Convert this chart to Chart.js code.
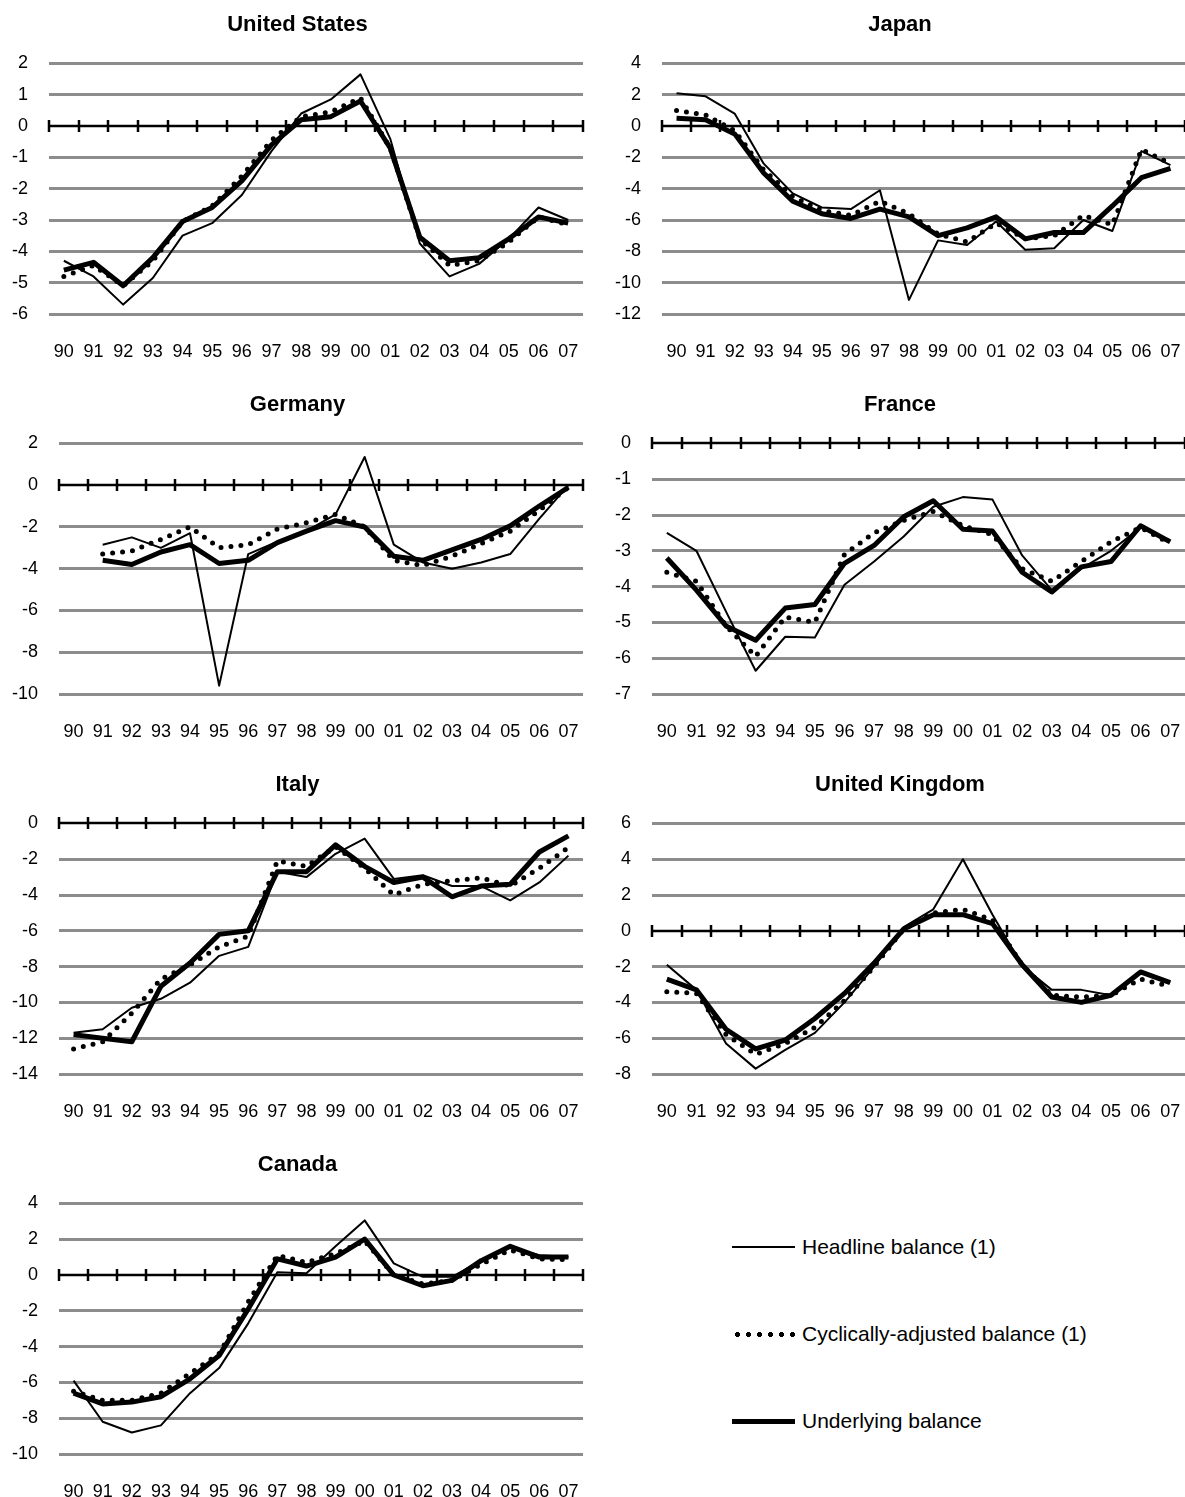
<!DOCTYPE html>
<html lang="en">
<head>
    <meta charset="UTF-8">
    <title>Fiscal balances, G7</title>
    <script src="https://cdn.jsdelivr.net/npm/chart.js"></script>
    <style>
        body {
            margin: 0;
            padding: 0;
            background: #fff;
            font-family: "Liberation Sans", Arial, sans-serif;
        }
        .page {
            position: relative;
            width: 1185px;
            height: 1497px;
        }
        .page canvas {
            position: absolute;
        }
        .legend-row {
            position: absolute;
            left: 732px;
            height: 30px;
            display: flex;
            align-items: center;
            font-size: 21px;
            color: #000;
        }
        .legend-row .sample {
            width: 63px;
            margin-right: 7px;
        }
        .sample.thin { border-top: 2px solid #000; }
        .sample.thick { border-top: 5px solid #000; }
        .sample.dots {
            height: 5px;
            background-image: radial-gradient(circle, #000 2.4px, transparent 2.8px);
            background-size: 11px 5px;
            background-repeat: repeat-x;
        }
    </style>
</head>
<body>

<div class="page" id="page">
    <div class="legend-row" style="top:1232px"><span class="sample thin"></span>Headline balance (1)</div>
    <div class="legend-row" style="top:1319px"><span class="sample dots"></span>Cyclically-adjusted balance (1)</div>
    <div class="legend-row" style="top:1406px"><span class="sample thick"></span>Underlying balance</div>
</div>

<script>
    // years on the category axis
    const years = ['90', '91', '92', '93', '94', '95', '96', '97', '98', '99', '00', '01', '02', '03', '04', '05', '06', '07'];

    // United States
    const usHeadline   = [-4.3, -4.8, -5.7, -4.85, -3.5, -3.1, -2.2, -0.8, 0.4, 0.85, 1.65, -0.4, -3.75, -4.8, -4.4, -3.6, -2.6, -3.0];
    const usCyclical   = [-4.8, -4.45, -5.1, -4.3, -3.05, -2.55, -1.6, -0.45, 0.3, 0.45, 0.9, -0.7, -3.6, -4.45, -4.3, -3.7, -2.9, -3.15];
    const usUnderlying = [-4.6, -4.35, -5.1, -4.2, -3.05, -2.6, -1.75, -0.6, 0.2, 0.3, 0.8, -0.7, -3.55, -4.3, -4.2, -3.6, -2.9, -3.1];
    const usTicks = [2, 1, 0, -1, -2, -3, -4, -5, -6];

    // Japan
    const jpHeadline   = [2.1, 1.9, 0.8, -2.4, -4.3, -5.2, -5.3, -4.1, -11.1, -7.3, -7.6, -6.1, -7.9, -7.8, -6.0, -6.7, -1.6, -2.5];
    const jpCyclical   = [1.0, 0.7, -0.3, -2.8, -4.5, -5.4, -5.7, -4.8, -5.6, -6.9, -7.4, -6.2, -7.2, -7.0, -5.7, -6.3, -1.5, -2.4];
    const jpUnderlying = [0.5, 0.4, -0.5, -3.0, -4.8, -5.6, -5.9, -5.3, -5.8, -7.0, -6.5, -5.8, -7.2, -6.8, -6.8, -5.1, -3.3, -2.7];
    const jpTicks = [4, 2, 0, -2, -4, -6, -8, -10, -12];

    // Germany (no 1990 value)
    const deHeadline   = [null, -2.85, -2.5, -3.0, -2.3, -9.6, -3.3, -2.7, -2.2, -1.4, 1.35, -2.85, -3.7, -4.0, -3.7, -3.3, -1.6, 0.0];
    const deCyclical   = [null, -3.3, -3.15, -2.6, -2.0, -3.0, -2.85, -2.1, -1.8, -1.4, -2.0, -3.6, -3.85, -3.4, -2.8, -2.2, -1.2, -0.1];
    const deUnderlying = [null, -3.6, -3.8, -3.2, -2.85, -3.75, -3.6, -2.75, -2.2, -1.7, -2.0, -3.4, -3.6, -3.1, -2.6, -1.95, -1.0, -0.1];
    const deTicks = [2, 0, -2, -4, -6, -8, -10];

    // France
    const frHeadline   = [-2.5, -3.0, -4.7, -6.35, -5.4, -5.42, -3.95, -3.3, -2.6, -1.77, -1.5, -1.57, -3.13, -4.1, -3.5, -3.0, -2.35, -2.7];
    const frCyclical   = [-3.6, -3.85, -5.1, -5.95, -4.85, -5.0, -3.1, -2.5, -2.15, -1.9, -2.3, -2.55, -3.5, -3.85, -3.3, -2.75, -2.35, -2.8];
    const frUnderlying = [-3.2, -4.1, -5.1, -5.5, -4.6, -4.5, -3.35, -2.85, -2.05, -1.6, -2.4, -2.45, -3.6, -4.15, -3.45, -3.3, -2.3, -2.75];
    const frTicks = [0, -1, -2, -3, -4, -5, -6, -7];

    // Italy
    const itHeadline   = [-11.7, -11.5, -10.3, -9.8, -8.9, -7.4, -6.9, -2.7, -3.0, -1.7, -0.85, -3.1, -2.9, -3.5, -3.5, -4.3, -3.3, -1.8];
    const itCyclical   = [-12.6, -12.2, -10.6, -8.7, -7.9, -6.9, -6.3, -2.1, -2.4, -1.3, -2.5, -4.0, -3.4, -3.2, -3.05, -3.5, -2.5, -1.35];
    const itUnderlying = [-11.8, -12.0, -12.2, -9.1, -7.8, -6.2, -6.0, -2.7, -2.7, -1.2, -2.4, -3.3, -3.0, -4.1, -3.5, -3.4, -1.6, -0.7];
    const itTicks = [0, -2, -4, -6, -8, -10, -12, -14];

    // United Kingdom
    const ukHeadline   = [-1.9, -3.3, -6.3, -7.7, -6.65, -5.7, -4.0, -2.0, 0.2, 1.2, 4.0, 0.9, -1.95, -3.3, -3.3, -3.6, -2.3, -2.9];
    const ukCyclical   = [-3.4, -3.5, -5.8, -6.9, -6.3, -5.4, -3.9, -2.0, 0.1, 1.0, 1.2, 0.6, -1.9, -3.6, -3.7, -3.6, -2.7, -3.1];
    const ukUnderlying = [-2.7, -3.3, -5.5, -6.6, -6.1, -4.9, -3.5, -1.8, 0.1, 0.9, 0.9, 0.4, -1.9, -3.7, -4.0, -3.6, -2.3, -2.9];
    const ukTicks = [6, 4, 2, 0, -2, -4, -6, -8];

    // Canada
    const caHeadline   = [-5.9, -8.2, -8.8, -8.4, -6.6, -5.2, -2.7, 0.15, 0.1, 1.6, 3.05, 0.65, -0.1, -0.1, 0.8, 1.55, 1.1, 1.0];
    const caCyclical   = [-6.5, -7.0, -7.0, -6.6, -5.5, -4.4, -1.5, 1.1, 0.7, 1.2, 1.9, 0.0, -0.5, -0.3, 0.6, 1.4, 0.9, 0.85];
    const caUnderlying = [-6.6, -7.2, -7.1, -6.8, -5.8, -4.5, -1.9, 0.9, 0.5, 1.0, 2.0, 0.0, -0.6, -0.3, 0.8, 1.6, 1.0, 1.0];
    const caTicks = [4, 2, 0, -2, -4, -6, -8, -10];

    const panels = [
        { title: 'United States',  col: 0, row: 0, h: usHeadline, c: usCyclical, u: usUnderlying, ticks: usTicks },
        { title: 'Japan',          col: 1, row: 0, h: jpHeadline, c: jpCyclical, u: jpUnderlying, ticks: jpTicks },
        { title: 'Germany',        col: 0, row: 1, h: deHeadline, c: deCyclical, u: deUnderlying, ticks: deTicks },
        { title: 'France',         col: 1, row: 1, h: frHeadline, c: frCyclical, u: frUnderlying, ticks: frTicks },
        { title: 'Italy',          col: 0, row: 2, h: itHeadline, c: itCyclical, u: itUnderlying, ticks: itTicks },
        { title: 'United Kingdom', col: 1, row: 2, h: ukHeadline, c: ukCyclical, u: ukUnderlying, ticks: ukTicks },
        { title: 'Canada',         col: 0, row: 3, h: caHeadline, c: caCyclical, u: caUnderlying, ticks: caTicks }
    ];

    // black zero line with cross ticks between the years (Excel style)
    const zeroAxis = {
        id: 'zeroAxis',
        beforeDatasetsDraw(chart) {
            const { ctx, chartArea, scales } = chart;
            const x = scales.x, y = scales.y;
            const y0 = Math.round(y.getPixelForValue(0));
            const n = chart.data.labels.length;
            ctx.save();
            ctx.strokeStyle = '#000';
            ctx.lineWidth = 2.5;
            ctx.beginPath();
            ctx.moveTo(chartArea.left, y0);
            ctx.lineTo(chartArea.right, y0);
            for (let i = 0; i <= n; i++) {
                let px;
                if (i === 0) px = chartArea.left;
                else if (i === n) px = chartArea.right;
                else px = (x.getPixelForValue(i - 1) + x.getPixelForValue(i)) / 2;
                px = Math.round(px);
                ctx.moveTo(px, y0 - 6);
                ctx.lineTo(px, y0 + 6);
            }
            ctx.stroke();
            ctx.restore();
        }
    };

    const page = document.getElementById('page');
    const font = '"Liberation Sans", Arial, sans-serif';

    panels.forEach(p => {
        const canvas = document.createElement('canvas');
        const left = p.col === 0 ? 0 : 603;
        const width = p.col === 0 ? 590 : 582;
        canvas.width = width;
        canvas.height = 380;
        canvas.style.left = left + 'px';
        canvas.style.top = (p.row * 380) + 'px';
        page.appendChild(canvas);

        const step = Math.abs(p.ticks[0] - p.ticks[1]);

        new Chart(canvas.getContext('2d'), {
            type: 'line',
            data: {
                labels: years,
                datasets: [
                    {
                        label: 'Headline balance (1)',
                        data: p.h,
                        borderColor: '#000',
                        borderWidth: 2,
                        pointRadius: 0,
                        tension: 0,
                        borderJoinStyle: 'round'
                    },
                    {
                        label: 'Cyclically-adjusted balance (1)',
                        data: p.c,
                        borderColor: '#000',
                        borderWidth: 5,
                        borderDash: [0, 10],
                        borderCapStyle: 'round',
                        pointRadius: 0,
                        tension: 0
                    },
                    {
                        label: 'Underlying balance',
                        data: p.u,
                        borderColor: '#000',
                        borderWidth: 5,
                        pointRadius: 0,
                        tension: 0,
                        borderJoinStyle: 'round'
                    }
                ]
            },
            options: {
                responsive: false,
                animation: false,
                layout: {
                    padding: { left: 12, right: p.col === 0 ? 7 : 0, top: 0, bottom: 17 }
                },
                plugins: {
                    legend: { display: false },
                    tooltip: { enabled: false },
                    title: {
                        display: true,
                        text: p.title,
                        color: '#000',
                        font: { family: font, size: 22, weight: 'bold' },
                        padding: { top: 12, bottom: 25 }
                    }
                },
                scales: {
                    x: {
                        offset: true,
                        grid: { display: false, drawTicks: false },
                        border: { display: false },
                        ticks: {
                            color: '#000',
                            padding: 27,
                            maxRotation: 0,
                            autoSkip: false,
                            font: { family: font, size: 18 }
                        },
                        afterFit(s) {
                            // keep the label padding from eating the plot width
                            s.height = 49;
                            s.paddingLeft = 0;
                            s.paddingRight = 0;
                        }
                    },
                    y: {
                        min: Math.min(...p.ticks),
                        max: Math.max(...p.ticks),
                        border: { display: false },
                        grid: {
                            drawTicks: false,
                            lineWidth: 3,
                            color: c => (c.tick && c.tick.value === 0) ? 'rgba(0,0,0,0)' : '#8c8c8c'
                        },
                        ticks: {
                            stepSize: step,
                            color: '#000',
                            padding: 21,
                            font: { family: font, size: 18 }
                        },
                        afterFit(s) {
                            // the padding gets counted twice otherwise
                            s.width -= s.options.ticks.padding;
                        }
                    }
                }
            },
            plugins: [zeroAxis]
        });
    });
</script>

</body>
</html>
